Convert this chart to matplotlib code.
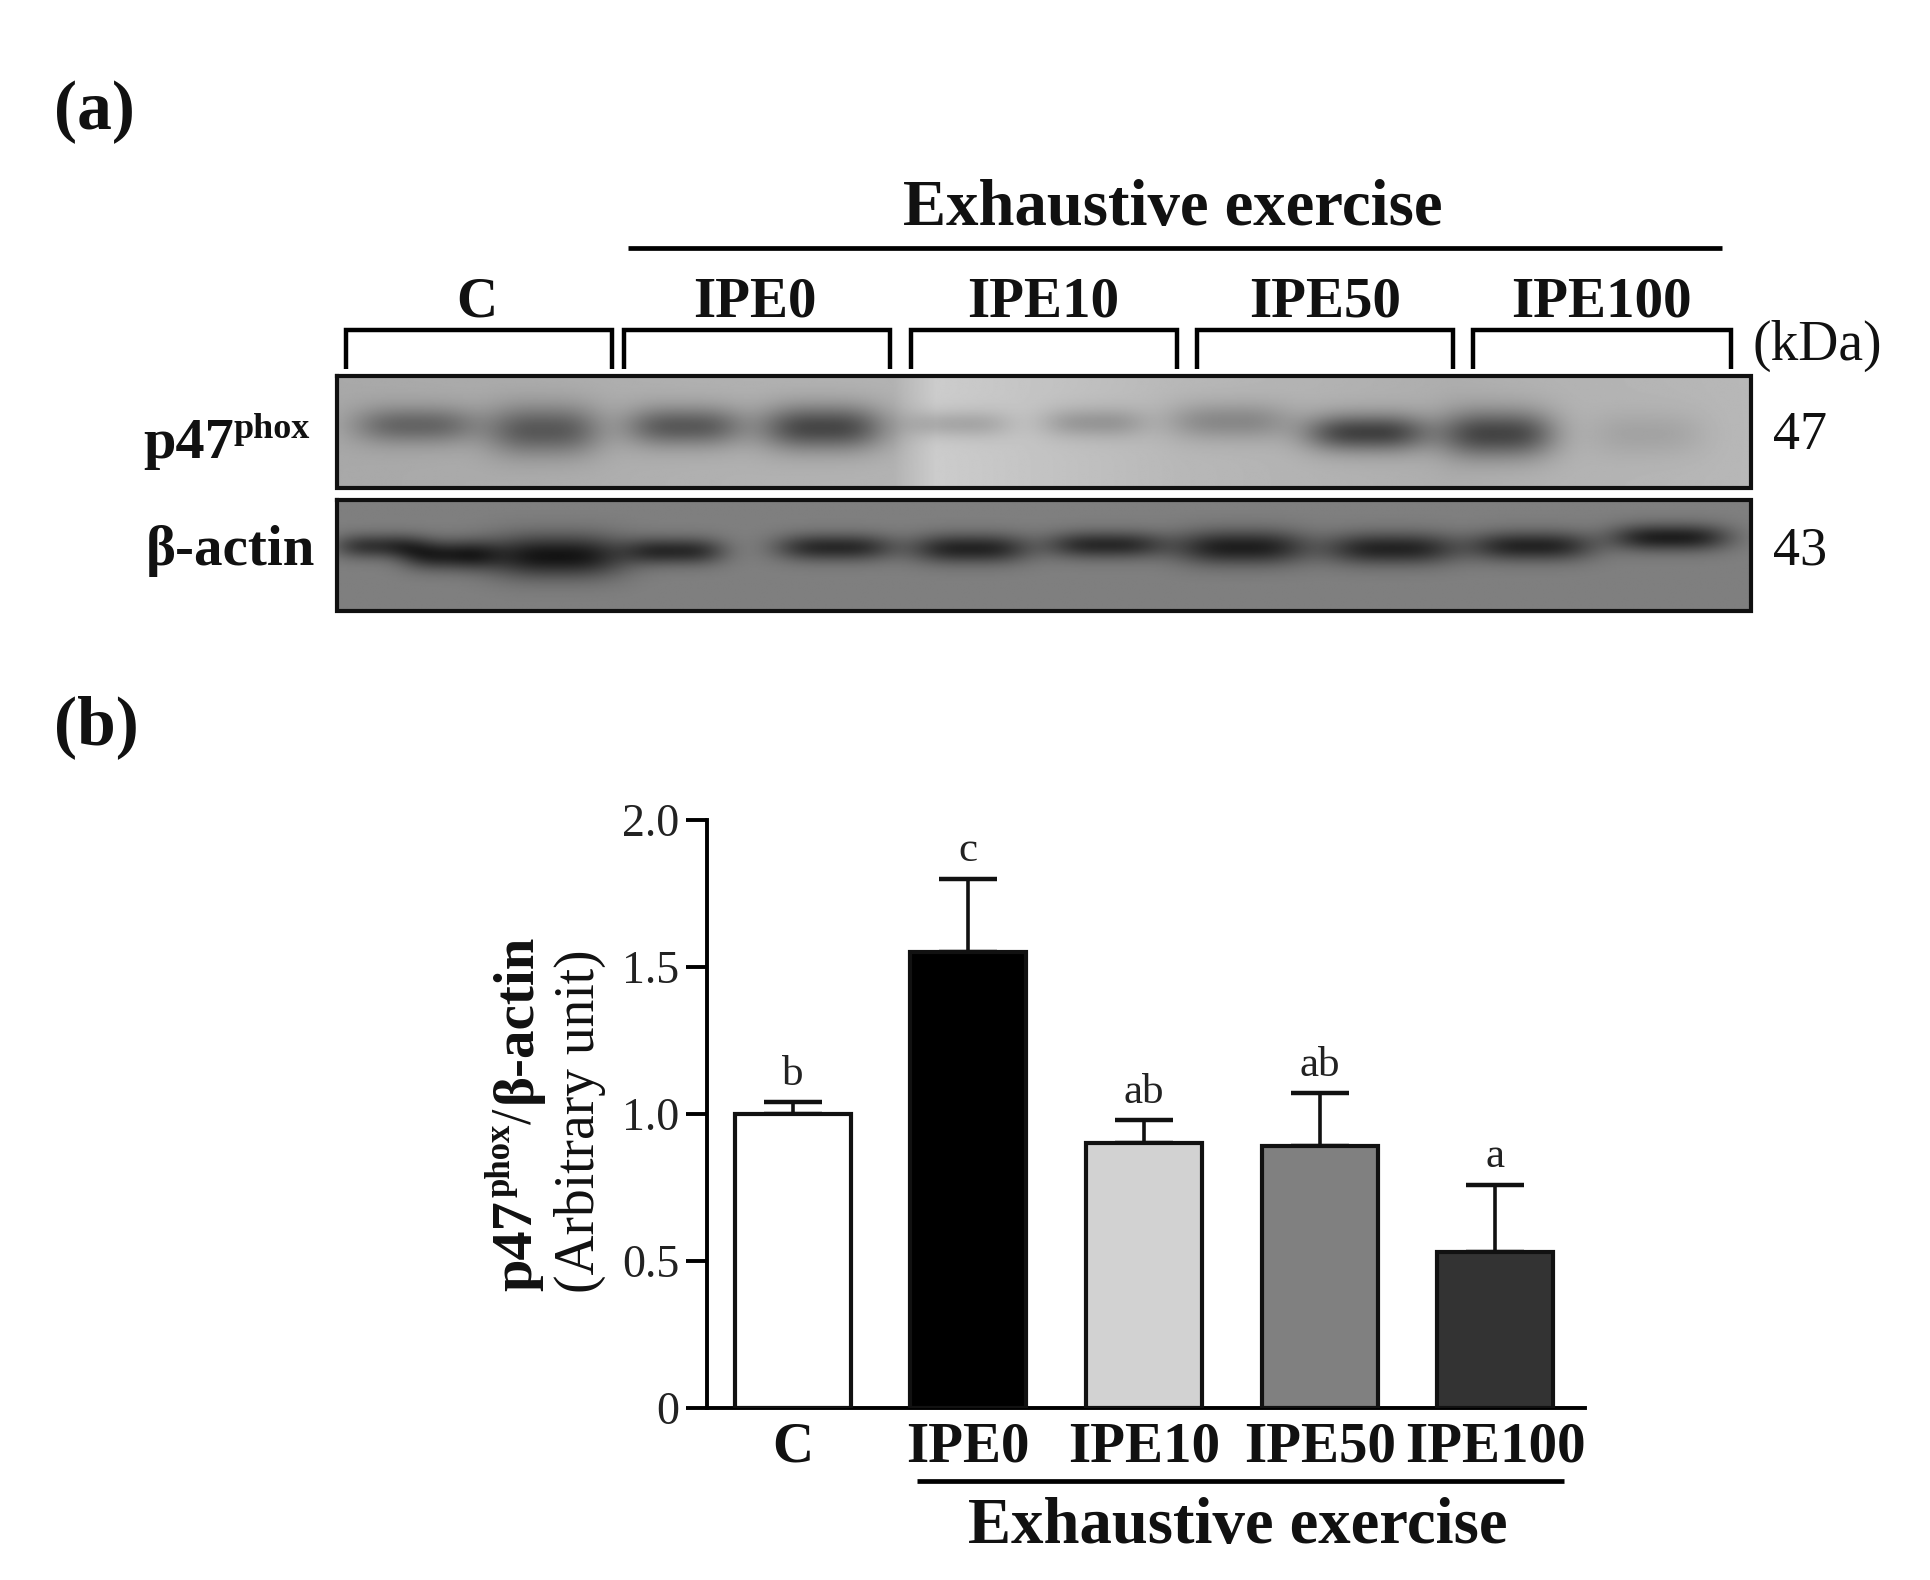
import numpy as np
import matplotlib
matplotlib.use("Agg")
import matplotlib.pyplot as plt

plt.rcParams['font.family'] = ['Liberation Serif', 'DejaVu Serif']

categories = ['C', 'IPE0', 'IPE10', 'IPE50', 'IPE100']
means = [1.00, 1.55, 0.90, 0.89, 0.53]
upper = [1.04, 1.80, 0.98, 1.07, 0.76]
letters = ['b', 'c', 'ab', 'ab', 'a']
bar_colors = ['#ffffff', '#000000', '#d2d2d2', '#808080', '#333333']
y_ticks = [0, 0.5, 1.0, 1.5, 2.0]
y_tick_labels = ['0', '0.5', '1.0', '1.5', '2.0']

# western blot band readings (reference-picture units): centre x, centre y, half width, half height, darkness
p47_bands = [(338, 345, 50, 15, 0.27), (442, 349, 46, 20, 0.33), (556, 346, 48, 16, 0.34),
             (668, 347, 50, 18, 0.42), (778, 344, 42, 11, 0.14), (888, 343, 42, 12, 0.16),
             (998, 342, 50, 15, 0.18), (1110, 351, 50, 15, 0.44), (1216, 352, 46, 19, 0.42),
             (1338, 352, 46, 18, 0.07)]
actin_bands = [(308, 443, 36, 10, 0.30), (365, 450, 38, 12, 0.38), (452, 451, 56, 17, 0.42),
               (548, 447, 40, 11, 0.34), (678, 444, 48, 11, 0.34), (788, 445, 48, 12, 0.36),
               (898, 442, 48, 11, 0.34), (1008, 444, 54, 14, 0.38), (1130, 445, 54, 13, 0.36),
               (1244, 443, 50, 12, 0.36), (1356, 436, 48, 11, 0.38)]
p47_bg_x = [274, 400, 560, 725, 760, 860, 960, 1180, 1260, 1422]
p47_bg = [0.66, 0.67, 0.69, 0.70, 0.80, 0.76, 0.72, 0.68, 0.70, 0.72]

W, H = 1931, 1580
fig = plt.figure(figsize=(W / 100, H / 100), dpi=100, facecolor='white')

# Overlay in the units of the shown reference
ov = fig.add_axes([0, 0, 1, 1], zorder=5)
ov.set_xlim(0, 1568)
ov.set_ylim(1283, 0)
ov.axis('off')
ov.patch.set_alpha(0)


def blot(x0, x1, y0, y1, bands, bg):
    xs = np.arange(x0, x1, 1.0)
    ys = np.arange(y0, y1, 1.0)
    X, Y = np.meshgrid(xs, ys)
    img = bg(X) if callable(bg) else np.full_like(X, bg)
    for cx, cy, sx, sy, d in bands:
        img = img - d * np.exp(-np.abs((X - cx) / sx) ** 3) * np.exp(-((Y - cy) / sy) ** 2)
    ov.imshow(img, extent=[x0, x1, y1, y0], cmap='gray', vmin=0, vmax=1,
              aspect='auto', interpolation='bilinear', zorder=1)
    ov.plot([x0, x1, x1, x0, x0], [y0, y0, y1, y1, y0], color='#101010', lw=3.0,
            solid_joinstyle='miter', zorder=2)


blot(274, 1422, 305, 396, p47_bands, lambda X: np.interp(X, p47_bg_x, p47_bg))
blot(274, 1422, 406, 496, actin_bands, 0.50)
ov.set_xlim(0, 1568)
ov.set_ylim(1283, 0)

# Brackets
for a, b in [(281, 497), (507, 723), (740, 956), (972, 1180), (1196, 1406)]:
    ov.plot([a, a, b, b], [300, 268, 268, 300], color='black', lw=3.2,
            solid_joinstyle='miter', solid_capstyle='butt')
ov.plot([510, 1398], [201, 201], color='black', lw=3.4, solid_capstyle='butt')
ov.plot([745, 1270], [1203, 1203], color='black', lw=3.4, solid_capstyle='butt')


def T(x, y, s, size, bold=False, ha='center', va='baseline', rot=0):
    return ov.text(x, y, s, fontsize=size, fontweight='bold' if bold else 'normal', ha=ha, va=va,
                   rotation=rot, rotation_mode='anchor', color='#111111')


T(44, 105, '(a)', 50, True, ha='left')
T(44, 604, '(b)', 50, True, ha='left')
T(952, 183, 'Exhaustive exercise', 46.5, True)
for x, s in zip([387, 613, 847, 1076, 1300], categories):
    T(x, 257, s, 41, True)
T(1423, 292, '(kDa)', 40, ha='left')
T(1440, 365, '47', 39, ha='left')
T(1440, 458, '43', 39, ha='left')
T(116, 372, 'p47', 42, True, ha='left')
T(190, 356, 'phox', 26, True, ha='left')
T(118, 459, 'β-actin', 41, True, ha='left')
T(1005, 1253, 'Exhaustive exercise', 46.5, True)

# y-axis title, rotated pieces
T(431, 1048, 'p47', 42, True, ha='left', rot=90)
T(414, 972, 'phox', 25, True, ha='left', rot=90)
T(431, 913, '/', 40, False, ha='left', rot=90)
T(431, 896, 'β-actin', 41, True, ha='left', rot=90)
T(482, 1050, '(Arbitrary unit)', 40, ha='left', rot=90)

# Bar panel
ax = fig.add_axes([707 / W, 1 - 1408 / H, (1585 - 707) / W, (1408 - 820) / H], zorder=3)
ax.patch.set_alpha(0)
x = np.arange(len(categories))
ax.bar(x, means, width=0.66, color=bar_colors, edgecolor='#111111', linewidth=3.0, zorder=3)
ax.errorbar(x, means, yerr=[np.zeros(5), np.array(upper) - np.array(means)], fmt='none',
            ecolor='#111111', elinewidth=2.6, capsize=21, capthick=3.2, zorder=2)
ax.set_xlim(-0.487, 4.51)
ax.set_ylim(0, 2.0)
ax.set_yticks(y_ticks)
ax.set_yticklabels(y_tick_labels, fontsize=33, color='#222222')
ax.set_xticks(x)
ax.set_xticklabels(categories, fontsize=41, fontweight='bold', color='#111111')
ax.tick_params(axis='y', length=15, width=2.8, pad=5)
ax.tick_params(axis='x', length=0, pad=10)
for s in ['top', 'right']:
    ax.spines[s].set_visible(False)
for s in ['left', 'bottom']:
    ax.spines[s].set_linewidth(2.8)
for xi, u, l in zip(x, upper, letters):
    ax.annotate(l, (xi, u), xytext=(0, 6), textcoords='offset points', ha='center', va='bottom',
                fontsize=31, color='#222222')

fig.savefig('out.png', dpi=100, facecolor='white')
